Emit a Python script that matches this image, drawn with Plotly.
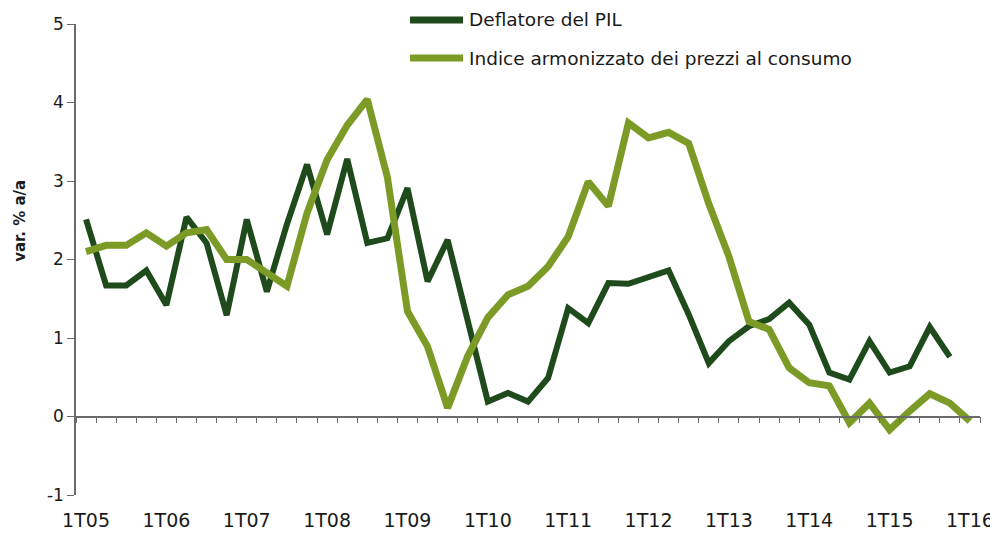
import plotly.graph_objects as go

# ---- data ----
years = ["05", "06", "07", "08", "09", "10", "11", "12", "13", "14", "15", "16"]
quarters = ["1", "2", "3", "4"]
categories = [q + "T" + y for y in years for q in quarters][:45]  # 1T05 .. 1T16

tick_labels = ["1T05", "1T06", "1T07", "1T08", "1T09", "1T10",
               "1T11", "1T12", "1T13", "1T14", "1T15", "1T16"]

y_tick_values = [-1, 0, 1, 2, 3, 4, 5]
y_tick_labels = ["-1", "0", "1", "2", "3", "4", "5"]

deflatore_pil = [2.51, 1.67, 1.67, 1.86, 1.42, 2.54, 2.21, 1.29, 2.51, 1.59,
                 2.45, 3.21, 2.32, 3.28, 2.21, 2.27, 2.91, 1.72, 2.25, 1.20,
                 0.19, 0.30, 0.19, 0.49, 1.38, 1.19, 1.70, 1.69, 1.77, 1.86,
                 1.30, 0.68, 0.96, 1.15, 1.24, 1.45, 1.17, 0.56, 0.47, 0.96,
                 0.56, 0.64, 1.14, 0.76]

ipca = [2.10, 2.18, 2.18, 2.34, 2.17, 2.34, 2.38, 2.00, 2.00, 1.83,
        1.66, 2.59, 3.27, 3.71, 4.04, 3.05, 1.34, 0.89, 0.11, 0.77,
        1.26, 1.55, 1.66, 1.91, 2.29, 2.99, 2.68, 3.74, 3.55, 3.62,
        3.48, 2.71, 2.04, 1.21, 1.11, 0.62, 0.43, 0.39, -0.08, 0.17,
        -0.17, 0.07, 0.29, 0.17, -0.06]

series_names = ["Deflatore del PIL", "Indice armonizzato dei prezzi al consumo"]
series_colors = ["#1e4a1c", "#7b9b26"]

FONT = "DejaVu Sans"
TXT = "#1a1a1a"
AXC = "#6a6a6a"

fig = go.Figure()
fig.add_trace(go.Scatter(x=categories[:len(deflatore_pil)], y=deflatore_pil, mode="lines",
                         name=series_names[0], xaxis="x", yaxis="y",
                         line=dict(color=series_colors[0], width=6), showlegend=False))
fig.add_trace(go.Scatter(x=categories, y=ipca, mode="lines",
                         name=series_names[1], xaxis="x2", yaxis="y",
                         line=dict(color=series_colors[1], width=7), showlegend=False))

xr = [-0.5, len(categories) - 0.5]
yr = [-1, 5]

# the page body adds an 8px offset, so the figure is 8px smaller and shifted accordingly
fig.update_layout(
    width=990, height=527,
    margin=dict(l=68, r=18, t=16, b=40, autoexpand=False),
    paper_bgcolor="white", plot_bgcolor="white",
    font=dict(family=FONT, color=TXT),
    xaxis=dict(type="category", categoryorder="array", categoryarray=categories,
               range=xr, tickmode="array", tickvals=tick_labels, ticktext=tick_labels,
               showline=False, ticks="outside", ticklen=8, tickcolor="rgba(0,0,0,0)",
               showgrid=False, zeroline=False, automargin=False,
               tickfont=dict(family=FONT, size=19, color=TXT)),
    xaxis2=dict(type="category", categoryorder="array", categoryarray=categories,
                range=xr, overlaying="x", anchor="free",
                position=(0 - yr[0]) / (yr[1] - yr[0]),
                showline=True, linecolor=AXC, linewidth=1.5,
                ticks="outside", tickson="boundaries", tickmode="linear", tick0=0, dtick=1,
                ticklen=6, tickcolor=AXC, tickwidth=1.2, automargin=False,
                showticklabels=False, showgrid=False, zeroline=False),
    yaxis=dict(range=yr, tickmode="array", tickvals=y_tick_values, ticktext=y_tick_labels,
               showline=True, linecolor=AXC, linewidth=1.5,
               ticks="outside", ticklen=7, tickcolor=AXC, tickwidth=1.2,
               showgrid=False, zeroline=False, automargin=False,
               tickfont=dict(family=FONT, size=17, color=TXT)),
)

# y-axis title
fig.add_annotation(text="var. % a/a", xref="paper", yref="paper",
                   x=-0.062, y=0.582, xanchor="center", yanchor="middle",
                   textangle=-90, showarrow=False,
                   font=dict(family=FONT, size=15, color=TXT, weight="bold"))

# manual legend
leg_y = [1.0085, 0.9278]
for name, col, ly in zip(series_names, series_colors, leg_y):
    fig.add_shape(type="line", xref="paper", yref="paper",
                  x0=0.3695, x1=0.4281, y0=ly, y1=ly,
                  line=dict(color=col, width=7))
    fig.add_annotation(text=name, xref="paper", yref="paper",
                       x=0.4325, y=ly, xanchor="left", yanchor="middle",
                       showarrow=False,
                       font=dict(family=FONT, size=18.5, color=TXT))

fig.write_html("out.html")
